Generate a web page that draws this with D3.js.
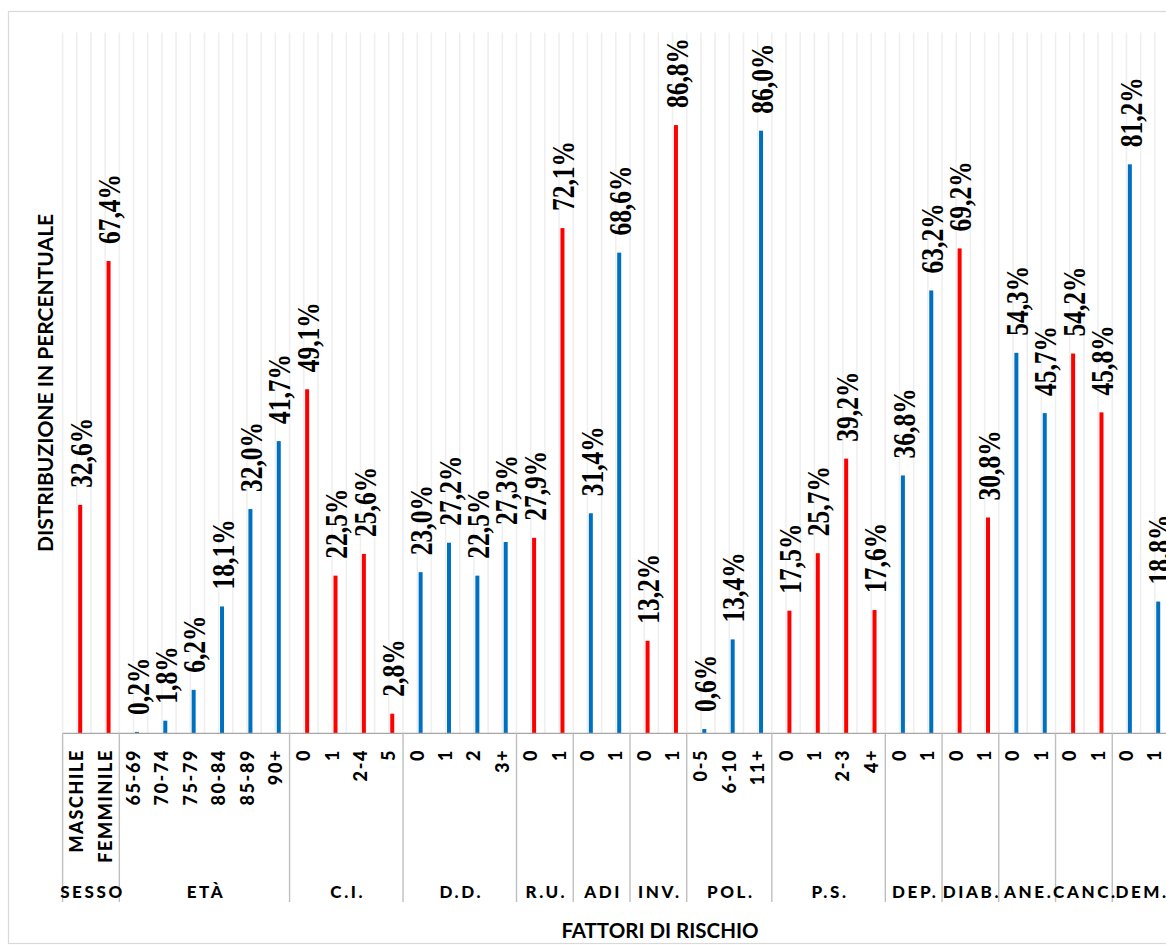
<!DOCTYPE html>
<html>
<head>
<meta charset="utf-8">
<script src="https://cdn.jsdelivr.net/npm/d3@7"></script>
<style>
  html, body { margin: 0; padding: 0; background: #ffffff; }
  svg { display: block; }
</style>
</head>
<body>
<svg id="chart" width="1166" height="947"></svg>
<script>
// Risk-factor groups, their sub-categories and percentage shares
const groups = ["SESSO", "ETÀ", "C.I.", "D.D.", "R.U.", "ADI", "INV.", "POL.", "P.S.", "DEP.", "DIAB.", "ANE.", "CANC.", "DEM."];
const categories = [
  ["MASCHILE", "FEMMINILE"],
  ["65-69", "70-74", "75-79", "80-84", "85-89", "90+"],
  ["0", "1", "2-4", "5"],
  ["0", "1", "2", "3+"],
  ["0", "1"],
  ["0", "1"],
  ["0", "1"],
  ["0-5", "6-10", "11+"],
  ["0", "1", "2-3", "4+"],
  ["0", "1"],
  ["0", "1"],
  ["0", "1"],
  ["0", "1"],
  ["0", "1"]
];
const values = [
  [32.6, 67.4],
  [0.2, 1.8, 6.2, 18.1, 32.0, 41.7],
  [49.1, 22.5, 25.6, 2.8],
  [23.0, 27.2, 22.5, 27.3],
  [27.9, 72.1],
  [31.4, 68.6],
  [13.2, 86.8],
  [0.6, 13.4, 86.0],
  [17.5, 25.7, 39.2, 17.6],
  [36.8, 63.2],
  [69.2, 30.8],
  [54.3, 45.7],
  [54.2, 45.8],
  [81.2, 18.8]
];
const yTitle = "DISTRIBUZIONE IN PERCENTUALE";
const xTitle = "FATTORI DI RISCHIO";
const palette = ["#ff0000", "#0070c0"];

// Flatten into one row per bar
const rows = [];
groups.forEach((g, gi) => {
  categories[gi].forEach((c, ci) => {
    rows.push({ id: gi + "|" + ci, group: g, gi, label: c, value: values[gi][ci] });
  });
});

const svg = d3.select("#chart");
const plot = { left: 62.6, right: 1169, top: 32.6, bottom: 733.3 };

const x = d3.scaleBand().domain(rows.map(d => d.id)).range([plot.left, plot.right]).padding(0);
const y = d3.scaleLinear().domain([0, 100]).range([plot.bottom, plot.top]);
const bw = x.bandwidth();

// outer frame
svg.append("rect")
  .attr("x", 8.5).attr("y", 11.5).attr("width", 1200).attr("height", 932)
  .attr("fill", "none").attr("stroke", "#d9d9d9").attr("stroke-width", 1.2);

// vertical gridlines at every half category
const gridPos = d3.range(0, rows.length * 2 + 1).map(k => plot.left + k * bw / 2);
svg.append("g").selectAll("line").data(gridPos).join("line")
  .attr("x1", d => d).attr("x2", d => d)
  .attr("y1", plot.top).attr("y2", plot.bottom)
  .attr("stroke", "#efefef").attr("stroke-width", 1.6);

// bars
const barW = 4;
const barCx = d => x(d.id) + bw * 0.62;
svg.append("g").selectAll("rect").data(rows).join("rect")
  .attr("x", d => barCx(d) - barW / 2)
  .attr("y", d => y(d.value))
  .attr("width", barW)
  .attr("height", d => y(0) - y(d.value))
  .attr("fill", d => palette[d.gi % 2]);

// value labels (rotated)
const fmt = v => d3.format(".1f")(v).replace(".", ",") + "%";
svg.append("g").selectAll("text").data(rows).join("text")
  .attr("transform", d => `translate(${barCx(d) + 1.5},${y(d.value) - 17}) rotate(-90) scale(1,1.2)`)
  .attr("y", 8.5)
  .attr("text-anchor", "start")
  .attr("font-family", "'Liberation Serif', 'Times New Roman', serif")
  .attr("font-weight", "bold")
  .attr("font-size", 25.5)
  .attr("fill", "#000")
  .text(d => fmt(d.value));

// x axis baseline
svg.append("line")
  .attr("x1", plot.left).attr("x2", plot.right)
  .attr("y1", plot.bottom).attr("y2", plot.bottom)
  .attr("stroke", "#a6a6a6").attr("stroke-width", 1.2);

// category tick labels
const axisFont = "Lato, 'Open Sans', sans-serif";
svg.append("g").selectAll("text").data(rows).join("text")
  .attr("transform", d => `translate(${x(d.id) + bw / 2 + 6.5},749) rotate(-90)`)
  .attr("text-anchor", "end")
  .attr("font-family", axisFont)
  .attr("font-weight", 900)
  .attr("font-size", 18)
  .attr("letter-spacing", 1.6)
  .attr("fill", "#000")
  .text(d => d.label);

// group separators and group labels
const groupSpans = groups.map((g, gi) => {
  const ids = rows.filter(r => r.gi === gi).map(r => r.id);
  return { g, x0: x(ids[0]), x1: x(ids[ids.length - 1]) + bw };
});
const sepX = [plot.left].concat(groupSpans.map(s => s.x1));
svg.append("g").selectAll("line").data(sepX).join("line")
  .attr("x1", d => d).attr("x2", d => d)
  .attr("y1", plot.bottom).attr("y2", 902)
  .attr("stroke", "#bfbfbf").attr("stroke-width", 1.4);

svg.append("g").selectAll("text").data(groupSpans).join("text")
  .attr("x", d => (d.x0 + d.x1) / 2 + 1.5)
  .attr("y", 897.5)
  .attr("text-anchor", "middle")
  .attr("font-family", axisFont)
  .attr("font-weight", 900)
  .attr("font-size", 17)
  .attr("letter-spacing", 2.6)
  .attr("fill", "#000")
  .text(d => d.g);

// axis titles
svg.append("text")
  .attr("transform", `translate(53,${(plot.top + plot.bottom) / 2}) rotate(-90)`)
  .attr("text-anchor", "middle")
  .attr("font-family", axisFont)
  .attr("font-weight", "bold")
  .attr("font-size", 21)
  .attr("fill", "#000")
  .text(yTitle);

svg.append("text")
  .attr("x", 660).attr("y", 938)
  .attr("text-anchor", "middle")
  .attr("font-family", axisFont)
  .attr("font-weight", "bold")
  .attr("font-size", 20.5)
  .attr("fill", "#000")
  .text(xTitle);
</script>
</body>
</html>
